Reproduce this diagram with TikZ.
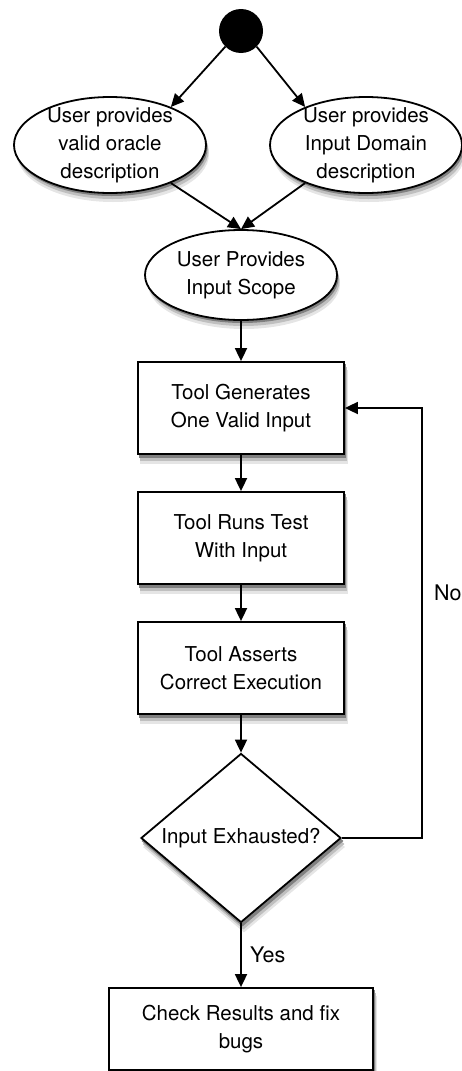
\documentclass[tikz,border=0pt]{standalone}
\usepackage{fontspec}
\setmainfont{TeX Gyre Heros}
\usetikzlibrary{shapes.geometric,arrows.meta}
\pgfdeclarelayer{background}
\pgfsetlayers{background,main}
\tikzset{
 base/.style={draw, line width=1.8pt, fill=white, font=\fontsize{20.5}{28}\selectfont, align=center},
 oval/.style={base, ellipse, minimum width=192pt, minimum height=96pt, inner xsep=0pt, inner ysep=-8pt},
 box/.style={base, rectangle, minimum width=206pt, minimum height=92pt, inner sep=0pt},
 decision/.style={base, diamond, aspect=1.18, minimum width=200pt, minimum height=169pt, inner sep=0pt},
 conn/.style={line width=1.8pt, -{Triangle[length=13pt,width=12pt]}},
 lbl/.style={font=\fontsize{21.5}{28}\selectfont, anchor=west, inner sep=0pt},
}
\begin{document}
\begin{tikzpicture}[x=1pt,y=-1pt]
\useasboundingbox (0,0) rectangle (462,1071);
\node[circle, fill=black, minimum size=44pt, inner sep=0pt] (start) at (241,31) {};
\node[oval] (left) at (110,145) {User provides\\valid oracle\\description};
\node[oval] (right) at (366,145) {User provides\\Input Domain\\description};
\node[oval, minimum height=90pt] (scope) at (241,275) {User Provides\\Input Scope};
\node[box] (gen) at (241,408) {Tool Generates\\One Valid Input};
\node[box] (run) at (241,538) {Tool Runs Test\\With Input};
\node[box] (assert) at (241,668) {Tool Asserts\\Correct Execution};
\node[decision] (dec) at (241,838) {Input Exhausted?};
\node[box, minimum width=264pt, minimum height=82pt] (check) at (241,1029) {Check Results and fix\\bugs};
\begin{pgfonlayer}{background}
\foreach \dx/\dy/\c in {3/9/10, 2.5/6/25, 1.5/3/50} {
  \foreach \n in {gen,run,assert,check}
    \fill[black!\c] ([shift={(\dx,\dy)}]\n.north west) rectangle ([shift={(\dx,\dy)}]\n.south east);
  \foreach \n in {left,right}
    \fill[black!\c] ([shift={(\dx,\dy)}]\n.center) ellipse [x radius=96, y radius=48];
  \fill[black!\c] ([shift={(\dx,\dy)}]scope.center) ellipse [x radius=96, y radius=45];
  \fill[black!\c] ([shift={(\dx,\dy)}]dec.north) -- ([shift={(\dx,\dy)}]dec.east)
     -- ([shift={(\dx,\dy)}]dec.south) -- ([shift={(\dx,\dy)}]dec.west) -- cycle;
}
\end{pgfonlayer}
\coordinate (loopc) at (422,408);
\draw[conn] (start.225) -- (left.32);
\draw[conn] (start.-45) -- (right.148);
\draw[conn] (left.-32) -- (scope.north);
\draw[conn] (right.212) -- (scope.north);
\draw[conn] (scope.south) -- (gen.north);
\draw[conn] (gen.south) -- (run.north);
\draw[conn] (run.south) -- (assert.north);
\draw[conn] (assert.south) -- (dec.north);
\draw[conn] (dec.south) -- (check.north);
\draw[conn] (dec.east) -| (loopc) -- (gen.east);
\node[lbl] (no) at (434,593) {No};
\node[lbl] (yes) at (250,955) {Yes};
\end{tikzpicture}
\end{document}
